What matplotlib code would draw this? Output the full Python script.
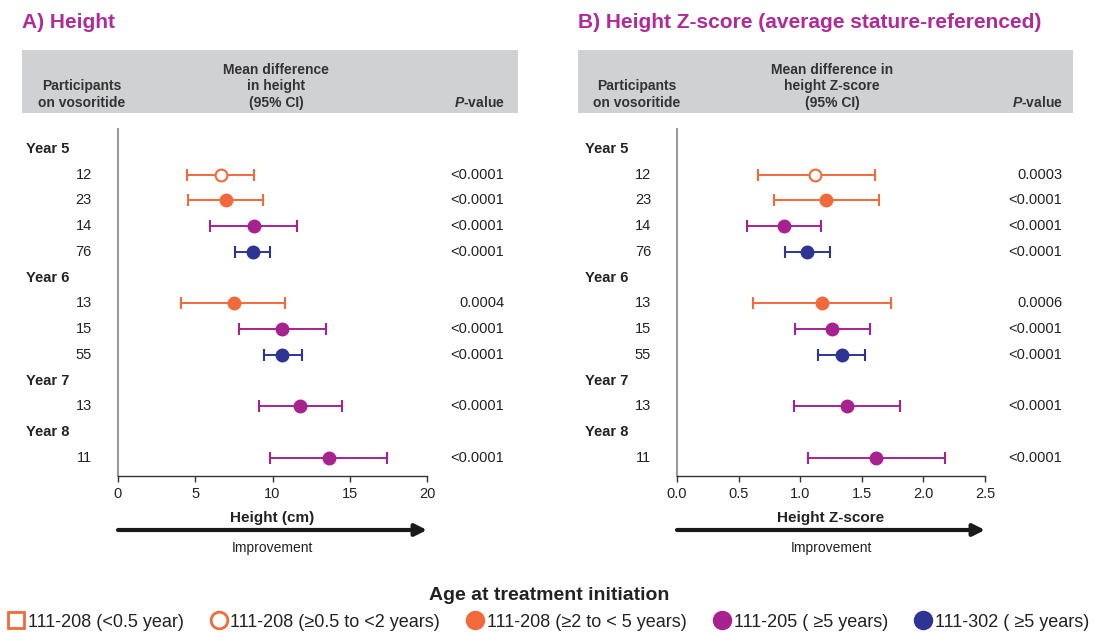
import matplotlib
matplotlib.use('Agg')
import matplotlib.pyplot as plt
from matplotlib import transforms, font_manager
from matplotlib.lines import Line2D
from matplotlib.patches import Rectangle

plt.rcParams['font.family'] = ['Liberation Sans', 'DejaVu Sans']
plt.rcParams['mathtext.fontset'] = 'custom'
plt.rcParams['mathtext.it'] = 'Liberation Sans:italic:bold'
plt.rcParams['mathtext.rm'] = 'Liberation Sans:bold'

names = {f.name for f in font_manager.fontManager.ttflist}
narrow = 'Liberation Sans Narrow' if 'Liberation Sans Narrow' in names else 'Liberation Sans'

# ---- data ----
years = ['Year 5', 'Year 6', 'Year 7', 'Year 8']
year_rows = [4, 3, 1, 1]
counts = ['12', '23', '14', '76', '13', '15', '55', '13', '11']
cohort = [1, 2, 3, 4, 2, 3, 4, 3, 3]

height_mean = [6.66, 7.0, 8.78, 8.71, 7.48, 10.6, 10.63, 11.79, 13.64]
height_lo = [4.49, 4.56, 5.97, 7.57, 4.08, 7.82, 9.42, 9.12, 9.87]
height_hi = [8.83, 9.37, 11.6, 9.81, 10.81, 13.45, 11.9, 14.53, 17.38]
height_p = ['<0.0001', '<0.0001', '<0.0001', '<0.0001', '0.0004',
            '<0.0001', '<0.0001', '<0.0001', '<0.0001']

z_mean = [1.124, 1.208, 0.865, 1.057, 1.177, 1.258, 1.337, 1.381, 1.618]
z_lo = [0.661, 0.787, 0.572, 0.876, 0.614, 0.954, 1.141, 0.949, 1.06]
z_hi = [1.61, 1.643, 1.166, 1.239, 1.738, 1.5625, 1.526, 1.811, 2.176]
z_p = ['0.0003', '<0.0001', '<0.0001', '<0.0001', '0.0006',
       '<0.0001', '<0.0001', '<0.0001', '<0.0001']

cohort_labels = ['111-208 (<0.5 year)', '111-208 (\u22650.5 to <2 years)',
                 '111-208 (\u22652 to < 5 years)', '111-205 ( \u22655 years)',
                 '111-302 ( \u22655 years)']

ORANGE = '#F26A3B'
MAGENTA = '#A8228F'
NAVY = '#2E3493'
TITLE = '#B02A98'
TXT = '#222222'
cohort_colors = [ORANGE, ORANGE, ORANGE, MAGENTA, NAVY]
cohort_fill = ['white', 'white', ORANGE, MAGENTA, NAVY]

W, H = 1097, 633
def fx(x): return x / W
def fy(y): return 1 - y / H

# row positions
year_pos, data_pos = [], []
r = 0
for n in year_rows:
    year_pos.append(r)
    r += 1
    for k in range(n):
        data_pos.append(r)
        r += 1

fig = plt.figure(figsize=(W / 100, H / 100), dpi=100)

panels = [
    dict(title='A) Height', left=118, right=427, box=(22, 518),
         mean=height_mean, lo=height_lo, hi=height_hi, p=height_p,
         xlim=(0, 20), ticks=[0, 5, 10, 15, 20], ticklabels=['0', '5', '10', '15', '20'],
         xlabel='Height (cm)', header='Mean difference\nin height\n(95% CI)', hx=276,
         year_x=26, count_x=92, p_x=504, part_x=82),
    dict(title='B) Height Z-score (average stature-referenced)', left=677, right=985, box=(578, 1073),
         mean=z_mean, lo=z_lo, hi=z_hi, p=z_p,
         xlim=(0, 2.5), ticks=[0, 0.5, 1.0, 1.5, 2.0, 2.5],
         ticklabels=['0.0', '0.5', '1.0', '1.5', '2.0', '2.5'],
         xlabel='Height Z-score', header='Mean difference in\nheight Z-score\n(95% CI)', hx=832,
         year_x=585, count_x=651, p_x=1062, part_x=637),
]

top, bottom = 129, 476
for pn in panels:
    ax = fig.add_axes([fx(pn['left']), fy(bottom), (pn['right'] - pn['left']) / W, (bottom - top) / H])
    ax.set_xlim(*pn['xlim'])
    ax.set_ylim(12.70, -0.77)
    ax.set_yticks([])
    ax.set_xticks(pn['ticks'])
    ax.set_xticklabels(pn['ticklabels'], fontsize=10.5, color=TXT)
    ax.tick_params(axis='x', length=4, width=1, color='#333333', pad=4)
    for s in ['top', 'right']:
        ax.spines[s].set_visible(False)
    ax.spines['left'].set_color('#9a9a9a')
    ax.spines['left'].set_linewidth(1.5)
    ax.spines['bottom'].set_color('#333333')
    ax.spines['bottom'].set_linewidth(1)
    ax.set_xlabel(pn['xlabel'], fontsize=11, fontweight='bold', color=TXT, labelpad=7)

    for i, y in enumerate(data_pos):
        c = cohort[i]
        m = pn['mean'][i]
        ax.errorbar(m, y, xerr=[[m - pn['lo'][i]], [pn['hi'][i] - m]], fmt='o',
                    color=cohort_colors[c], mfc=cohort_fill[c], mec=cohort_colors[c],
                    mew=1.5, ms=8.5, elinewidth=1.4, capsize=4, capthick=1.4, zorder=3)

    tr = transforms.blended_transform_factory(fig.transFigure, ax.transData)
    for name, y in zip(years, year_pos):
        fig.text(fx(pn['year_x']), y, name, transform=tr, ha='left', va='center',
                 fontsize=10.5, fontweight='bold', color=TXT)
    for i, y in enumerate(data_pos):
        fig.text(fx(pn['count_x']), y, counts[i], transform=tr, ha='right', va='center',
                 fontsize=10.5, color=TXT)
        fig.text(fx(pn['p_x']), y, pn['p'][i], transform=tr, ha='right', va='center',
                 fontsize=10.5, color=TXT)

    # header band
    x0, x1 = pn['box']
    fig.add_artist(Rectangle((fx(x0), fy(113)), (x1 - x0) / W, 63 / H,
                             transform=fig.transFigure, facecolor='#D0D1D3', edgecolor='none', zorder=0))
    fig.text(fx(x0), fy(22), pn['title'], ha='left', va='center', fontsize=15,
             fontweight='bold', color=TITLE)
    fig.text(fx(pn['part_x']), fy(110), 'Participants\non vosoritide', ha='center', va='bottom',
             fontsize=10, fontweight='bold', color='#333333', linespacing=1.25)
    fig.text(fx(pn['hx']), fy(110), pn['header'], ha='center', va='bottom',
             fontsize=10, fontweight='bold', color='#333333', linespacing=1.25)
    fig.text(fx(pn['p_x'] + 1), fy(110), r'$P$-value', ha='right', va='bottom',
             fontsize=10, fontweight='bold', color='#333333')

    # improvement arrow
    atr = transforms.blended_transform_factory(ax.transAxes, fig.transFigure)
    ax.annotate('', xy=(1.0, fy(530)), xytext=(0.0, fy(530)), xycoords=atr, textcoords=atr,
                arrowprops=dict(arrowstyle='-|>,head_length=0.7,head_width=0.35', lw=3,
                                color='#1a1a1a', shrinkA=0, shrinkB=0), annotation_clip=False)
    ax.text(0.5, fy(548), 'Improvement', transform=atr, ha='center', va='center',
            fontsize=10, color=TXT)

# legend
handles = [Line2D([], [], ls='none', marker='s', ms=11, mfc='white', mec=ORANGE, mew=2)]
for c in range(1, 5):
    handles.append(Line2D([], [], ls='none', marker='o', ms=12, mfc=cohort_fill[c],
                          mec=cohort_colors[c], mew=2))
leg = fig.legend(handles, cohort_labels, loc='center', bbox_to_anchor=(fx(549), fy(609)),
                 ncol=5, frameon=False, handlelength=0.8, handletextpad=0.25,
                 columnspacing=1.55, prop={'family': narrow, 'size': 13},
                 title='Age at treatment initiation',
                 title_fontproperties={'family': narrow, 'size': 14, 'weight': 'bold'})
for t in leg.get_texts():
    t.set_color(TXT)
leg.get_title().set_color(TXT)

fig.savefig('out.png', dpi=100)
